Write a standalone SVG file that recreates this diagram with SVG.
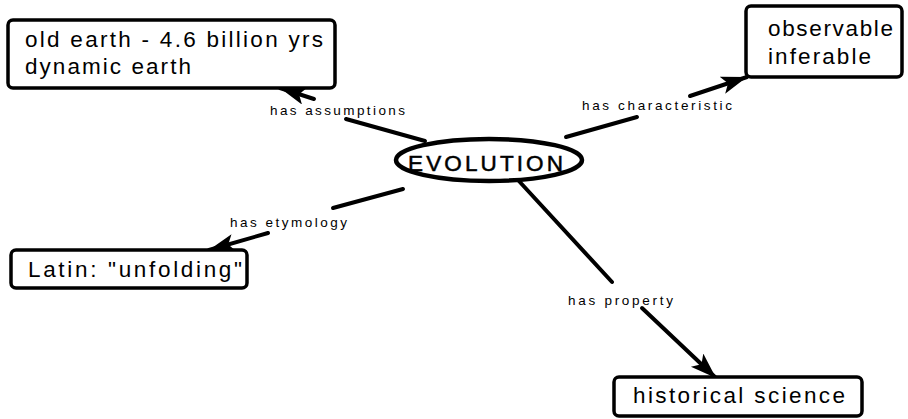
<svg xmlns="http://www.w3.org/2000/svg" width="908" height="419" viewBox="0 0 908 419">
<style>
.box{fill:#fff;stroke:#000;stroke-width:3.5}
.t{font-family:"Liberation Sans",Arial,sans-serif;font-size:22.5px;fill:#000}
.lbl{font-family:"Liberation Sans",Arial,sans-serif;font-size:13.5px;fill:#000}
.ln{stroke:#000;stroke-width:4;fill:none;stroke-linecap:round}
</style>
<defs>
<marker id="ah" markerUnits="userSpaceOnUse" markerWidth="32" markerHeight="22" refX="26" refY="9" orient="auto">
<path d="M0,0 L26,9 L0,18 L6,9 Z" fill="#000"/>
</marker>
</defs>
<rect width="908" height="419" fill="#fff"/>
<g id="connectors">
<path class="ln" d="M425,141 L346,119"/>
<path class="ln" d="M314,99 L280,88" marker-end="url(#ah)"/>
<text class="lbl" x="270" y="115" textLength="135" lengthAdjust="spacing">has assumptions</text>
<path class="ln" d="M566,137 L637,117"/>
<path class="ln" d="M690,96 L747,77" marker-end="url(#ah)"/>
<text class="lbl" x="582" y="110" textLength="150" lengthAdjust="spacing">has characteristic</text>
<path class="ln" d="M403,189 L333,208"/>
<path class="ln" d="M268,233 L209,250" marker-end="url(#ah)"/>
<text class="lbl" x="230" y="227" textLength="117" lengthAdjust="spacing">has etymology</text>
<path class="ln" d="M518,180 L612,282"/>
<path class="ln" d="M642,308 L716,378" marker-end="url(#ah)"/>
<text class="lbl" x="568" y="305" textLength="105" lengthAdjust="spacing">has property</text>
</g>
<g id="evolution">
<ellipse cx="489" cy="160" rx="93" ry="21" fill="#fff" stroke="#000" stroke-width="4.5"/>
<text class="t" x="408" y="171" font-size="26" stroke="#000" stroke-width="0.5" textLength="155" lengthAdjust="spacing">EVOLUTION</text>
</g>
<g id="old-earth">
<rect class="box" x="8" y="20" width="327" height="68" rx="5"/>
<text class="t" x="25" y="47" textLength="298" lengthAdjust="spacing">old earth - 4.6 billion yrs</text>
<text class="t" x="25" y="74" textLength="166" lengthAdjust="spacing">dynamic earth</text>
</g>
<g id="observable">
<rect class="box" x="746" y="6" width="156" height="71" rx="5"/>
<text class="t" x="768" y="36" textLength="125" lengthAdjust="spacing">observable</text>
<text class="t" x="768" y="64" textLength="103" lengthAdjust="spacing">inferable</text>
</g>
<g id="latin">
<rect class="box" x="11" y="250" width="236" height="38" rx="5"/>
<text class="t" x="28" y="277" textLength="214" lengthAdjust="spacing">Latin: "unfolding"</text>
</g>
<g id="historical">
<rect class="box" x="614" y="377" width="248" height="39" rx="5"/>
<text class="t" x="633" y="403" textLength="212" lengthAdjust="spacing">historical  science</text>
</g>
</svg>
